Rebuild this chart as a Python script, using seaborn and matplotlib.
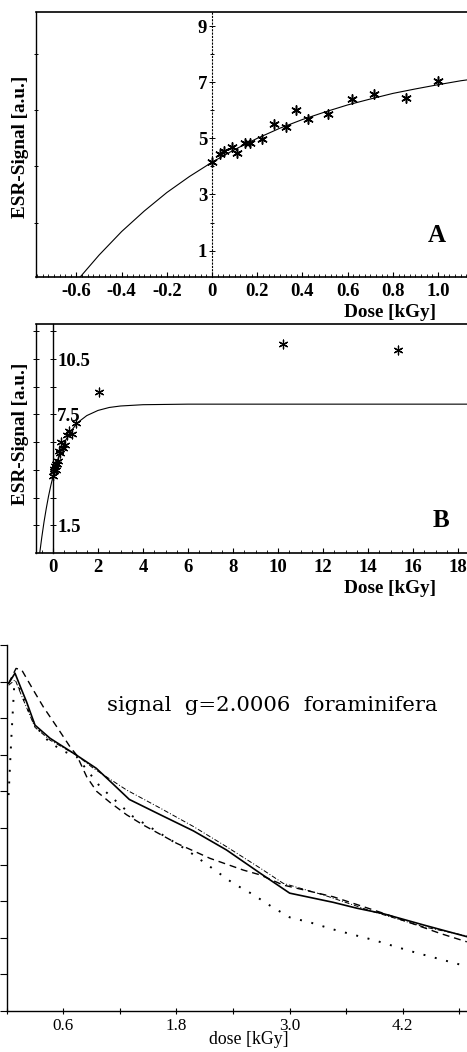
import matplotlib
matplotlib.use("Agg")
import matplotlib.pyplot as plt
import seaborn as sns
from matplotlib.ticker import FixedLocator, MultipleLocator

# ---------------- data ----------------
# Panels A/B: measured ESR signal vs dose
dose_pts = [0.0, 0.035, 0.053, 0.087, 0.112, 0.146, 0.168, 0.22, 0.274, 0.327,
            0.372, 0.426, 0.515, 0.62, 0.717, 0.86, 1.0]
signal_pts = [4.16, 4.43, 4.54, 4.69, 4.48, 4.83, 4.83, 4.96, 5.52, 5.40,
              6.01, 5.70, 5.87, 6.40, 6.58, 6.44, 7.03]
dose_extra = [2.04, 10.2, 15.35]
signal_extra = [8.73, 11.3, 11.0]

# fitted saturation curve
fit_dose = [-0.59, -0.5, -0.4, -0.3, -0.2, -0.1, 0.0, 0.1, 0.2, 0.3, 0.4, 0.5,
            0.6, 0.7, 0.8, 0.9, 1.0, 1.1, 1.2, 1.5, 2.0, 2.5, 3.0, 4.0, 6.0,
            10.0, 19.0]
fit_signal = [0.0, 0.84, 1.68, 2.41, 3.07, 3.64, 4.15, 4.60, 5.00, 5.36, 5.67,
              5.94, 6.19, 6.40, 6.60, 6.76, 6.91, 7.05, 7.16, 7.44, 7.72, 7.88,
              7.96, 8.03, 8.06, 8.06, 8.06]

xticks_A = [-0.6, -0.4, -0.2, 0.0, 0.2, 0.4, 0.6, 0.8, 1.0]
xlabels_A = ["-0.6", "-0.4", "-0.2", "0", "0.2", "0.4", "0.6", "0.8", "1.0"]
yticks_A = [1, 3, 5, 7, 9]
xticks_B = [0, 2, 4, 6, 8, 10, 12, 14, 16, 18]
yticks_B = [1.5, 3.0, 4.5, 6.0, 7.5, 9.0, 10.5, 12.0]
ylabels_B = ["1.5", "", "", "", "7.5", "", "10.5", ""]

# Panel C: four dose-response curves (signal g=2.0006, foraminifera)
c_solid_x = [0.02, 0.088, 0.159, 0.21, 0.30, 0.46, 0.74, 0.95, 1.12, 1.30, 1.63,
             1.98, 2.33, 2.69, 3.0, 3.46, 3.71, 3.99, 4.42, 4.88]
c_solid_y = [8.95, 9.23, 8.77, 8.45, 7.81, 7.45, 6.99, 6.63, 6.22, 5.78, 5.36,
             4.92, 4.40, 3.76, 3.22, 2.97, 2.81, 2.66, 2.35, 2.03]
c_dash_x = [0.02, 0.099, 0.159, 0.282, 0.388, 0.53, 0.671, 0.742, 0.848, 0.954,
            1.095, 1.272, 1.449, 1.803, 2.156, 2.509, 2.686, 2.933, 3.463, 3.994,
            4.595, 4.878]
c_dash_y = [8.95, 9.36, 9.32, 8.77, 8.31, 7.77, 7.22, 6.99, 6.40, 6.00, 5.70,
            5.36, 5.08, 4.58, 4.17, 3.85, 3.72, 3.44, 3.12, 2.67, 2.12, 1.89]
c_dashdot_x = [0.02, 0.09, 0.16, 0.30, 0.46, 0.74, 0.92, 1.27, 1.63, 1.98, 2.33,
               2.69, 2.93, 3.36, 3.89, 4.42, 4.88]
c_dashdot_y = [8.9, 9.05, 8.6, 7.75, 7.4, 6.99, 6.63, 6.04, 5.54, 5.04, 4.49,
               3.90, 3.49, 3.17, 2.71, 2.30, 2.05]
c_dot_x = [0.02, 0.05, 0.08, 0.12, 0.2, 0.3, 0.45, 0.6, 0.74, 0.99, 1.34, 1.91,
           2.40, 2.60, 2.81, 3.0, 3.23, 3.46, 3.68, 3.89, 4.12, 4.33, 4.56, 4.79,
           4.88]
c_dot_y = [5.9, 7.5, 8.9, 8.9, 8.4, 7.8, 7.35, 7.1, 6.95, 6.13, 5.31, 4.40, 3.49,
           3.20, 2.85, 2.56, 2.41, 2.23, 2.08, 1.94, 1.76, 1.60, 1.44, 1.28, 1.22]
xticks_C = [0.6, 1.8, 3.0, 4.2]
xlabels_C = ["0.6", "1.8", "3.0", "4.2"]
xminor_C = [0.0, 1.2, 2.4, 3.6, 4.8]

# ---------------- styling ----------------
sns.set_theme(style="ticks")
plt.rcParams["font.family"] = ["Liberation Serif", "DejaVu Serif"]
plt.rcParams["axes.edgecolor"] = "black"
plt.rcParams["xtick.color"] = "black"
plt.rcParams["ytick.color"] = "black"
plt.rcParams["text.color"] = "black"

W, H = 467, 1052
fig = plt.figure(figsize=(W / 100, H / 100), dpi=100)
fig.patch.set_facecolor("white")


def rect(l, t, r, b):
    return [l / W, 1 - b / H, (r - l) / W, (b - t) / H]


axA = fig.add_axes(rect(36, 12, 467, 277))
axB = fig.add_axes(rect(36, 324, 467, 553))
axC = fig.add_axes(rect(6.7, 645, 467, 1011))

star = (6, 2, 0)
TICK_FS = 13.5
LAB_FS = 13.8

# ---------------- Panel A ----------------
sns.lineplot(x=fit_dose, y=fit_signal, ax=axA, color="black", lw=0.8,
             estimator=None, sort=False)
sns.scatterplot(x=dose_pts, y=signal_pts, ax=axA, marker=star, s=45,
                color="black", linewidth=1.1, zorder=3)
axA.set_xlim(-0.779, 1.128)
axA.set_ylim(0.06, 9.5)
axA.spines["left"].set_position(("data", 0))
axA.spines["left"].set_linestyle((0, (1, 2)))
axA.spines["left"].set_linewidth(0.8)
axA.spines["right"].set_position(("axes", 0))
axA.spines["right"].set_linewidth(1.0)
axA.spines["top"].set_linewidth(1.2)
axA.spines["bottom"].set_linewidth(1.2)
axA.xaxis.set_major_locator(FixedLocator(xticks_A))
axA.set_xticklabels(xlabels_A, fontweight="bold", fontsize=TICK_FS)
axA.xaxis.set_minor_locator(MultipleLocator(0.025))
axA.tick_params(axis="x", which="major", direction="in", length=3.5, width=0.8,
                bottom=True, top=False, pad=4)
axA.tick_params(axis="x", which="minor", direction="in", length=2, width=0.6,
                bottom=True, top=False)
axA.yaxis.set_major_locator(FixedLocator(yticks_A))
axA.set_yticklabels([str(v) for v in yticks_A], fontweight="bold",
                    fontsize=TICK_FS)
axA.yaxis.set_minor_locator(MultipleLocator(1.0))
axA.tick_params(axis="y", which="major", direction="inout", length=5, width=0.7,
                left=True, right=False, pad=1)
axA.tick_params(axis="y", which="minor", direction="inout", length=3, width=0.7,
                left=True, right=True)
axA.set_xlabel("")
axA.set_ylabel("")
axA.text(0.928, -0.135, "Dose [kGy]", transform=axA.transAxes, ha="right",
         va="center", fontsize=LAB_FS, fontweight="bold")
axA.text(-0.037, 0.49, "ESR-Signal [a.u.]", transform=axA.transAxes,
         ha="center", va="center", rotation=90, fontsize=LAB_FS,
         fontweight="bold")
axA.text(0.930, 0.158, "A", transform=axA.transAxes, ha="center", va="center",
         fontsize=18, fontweight="bold")

# ---------------- Panel B ----------------
sns.lineplot(x=fit_dose, y=fit_signal, ax=axB, color="black", lw=0.8,
             estimator=None, sort=False)
sns.scatterplot(x=dose_pts + dose_extra, y=signal_pts + signal_extra, ax=axB,
                marker=star, s=40, color="black", linewidth=0.9, zorder=3)
axB.set_xlim(-0.756, 18.4)
axB.set_ylim(0.0, 12.4)
axB.spines["right"].set_position(("data", 0))
axB.spines["right"].set_linewidth(1.0)
axB.spines["left"].set_linewidth(1.0)
axB.spines["top"].set_linewidth(1.2)
axB.spines["bottom"].set_linewidth(1.2)
axB.xaxis.set_major_locator(FixedLocator(xticks_B))
axB.set_xticklabels([str(v) for v in xticks_B], fontweight="bold",
                    fontsize=TICK_FS)
axB.xaxis.set_minor_locator(MultipleLocator(0.5))
axB.tick_params(axis="x", which="major", direction="in", length=3.5, width=0.8,
                bottom=True, top=False, pad=4)
axB.tick_params(axis="x", which="minor", direction="in", length=2, width=0.6,
                bottom=True, top=False)
axB.yaxis.tick_right()
axB.yaxis.set_major_locator(FixedLocator(yticks_B))
axB.set_yticklabels(ylabels_B, fontweight="bold", fontsize=TICK_FS)
axB.tick_params(axis="y", which="major", direction="inout", length=4, width=0.7,
                left=True, right=True, labelleft=False, labelright=True, pad=1)
axB.set_xlabel("")
axB.set_ylabel("")
axB.text(0.928, -0.153, "Dose [kGy]", transform=axB.transAxes, ha="right",
         va="center", fontsize=LAB_FS, fontweight="bold")
axB.text(-0.037, 0.52, "ESR-Signal [a.u.]", transform=axB.transAxes,
         ha="center", va="center", rotation=90, fontsize=LAB_FS,
         fontweight="bold")
axB.text(0.940, 0.144, "B", transform=axB.transAxes, ha="center", va="center",
         fontsize=18, fontweight="bold")

# ---------------- Panel C ----------------
sns.lineplot(x=c_solid_x, y=c_solid_y, ax=axC, color="black", lw=1.2,
             estimator=None, sort=False)
sns.lineplot(x=c_dashdot_x, y=c_dashdot_y, ax=axC, color="black", lw=0.7,
             estimator=None, sort=False, linestyle=(0, (5, 2, 1, 2)))
sns.lineplot(x=c_dash_x, y=c_dash_y, ax=axC, color="black", lw=1.0,
             estimator=None, sort=False, linestyle=(0, (5, 3.5)))
sns.lineplot(x=c_dot_x, y=c_dot_y, ax=axC, color="black", lw=1.4,
             estimator=None, sort=False, linestyle=(0, (1, 5)))
axC.set_xlim(0.0, 4.88)
axC.set_ylim(0.0, 10.0)
axC.spines["top"].set_visible(False)
axC.spines["right"].set_visible(False)
axC.spines["left"].set_linewidth(1.0)
axC.spines["bottom"].set_linewidth(1.0)
axC.yaxis.set_major_locator(MultipleLocator(1.0))
axC.tick_params(axis="y", which="major", direction="out", length=5, width=0.8,
                left=True, labelleft=False)
axC.xaxis.set_major_locator(FixedLocator(xticks_C))
axC.set_xticklabels(xlabels_C, fontsize=12.3)
axC.xaxis.set_minor_locator(FixedLocator(xminor_C))
axC.tick_params(axis="x", which="both", direction="inout", length=4, width=0.8,
                bottom=True, pad=3)
axC.set_xlabel("")
axC.set_ylabel("")
axC.text(0.527, -0.077, "dose [kGy]", transform=axC.transAxes, ha="center",
         va="center", fontsize=12.8)
axC.text(0.218, 0.836, "signal  g=2.0006  foraminifera", transform=axC.transAxes,
         ha="left", va="center", fontsize=15.3, family=["DejaVu Serif"])

fig.savefig("out.png", dpi=100, facecolor="white")
